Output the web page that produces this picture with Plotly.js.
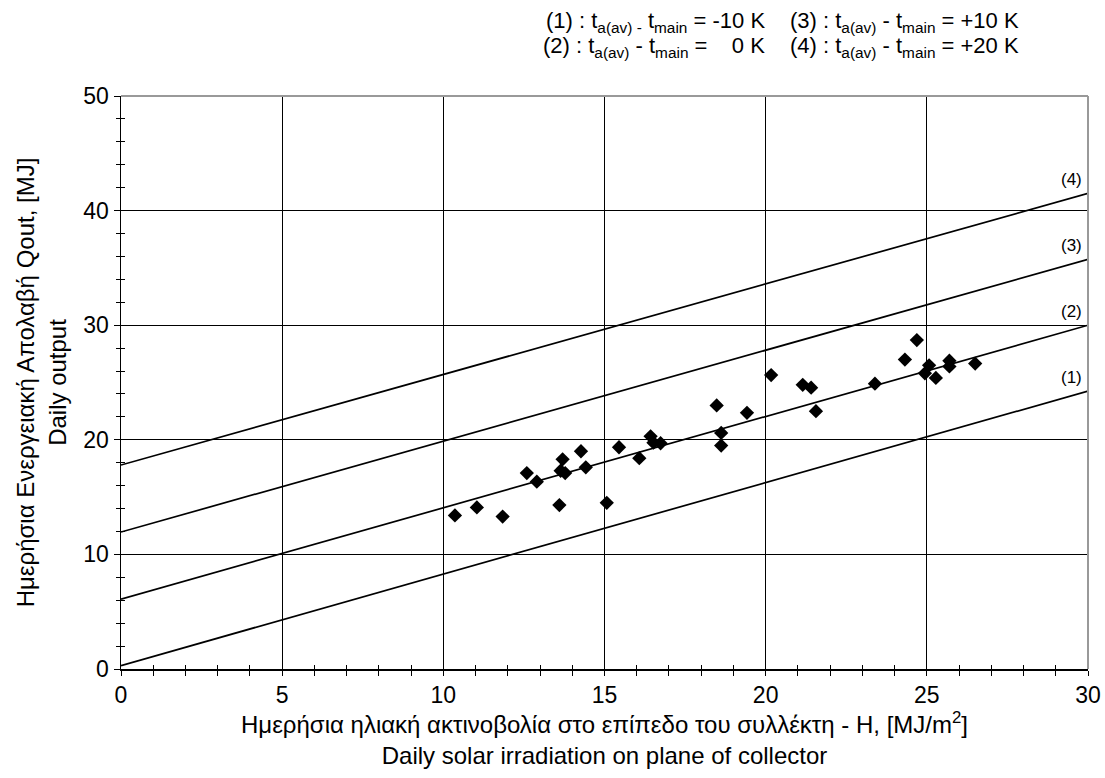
<!DOCTYPE html>
<html>
<head>
<meta charset="utf-8">
<script src="https://cdn.plot.ly/plotly-3.0.1.min.js"></script>
<style>html,body{margin:0;padding:0;background:#fff;}#chart{width:1105px;height:778px;}</style>
</head>
<body>
<div id="chart"></div>
<script>
// Measured daily values
const irradiationH = [10.36, 11.04, 11.84, 12.59, 12.9, 13.6, 13.7, 13.64, 13.78, 14.27, 14.42, 15.07, 15.45, 16.08, 16.43, 16.52, 16.74, 18.48, 18.62, 18.62, 19.42, 20.17, 21.15, 21.41, 21.56, 23.39, 24.32, 24.69, 24.94, 25.07, 25.28, 25.7, 25.7, 26.5];
const dailyOutput  = [13.4, 14.1, 13.3, 17.1, 16.35, 14.3, 18.3, 17.3, 17.1, 19.0, 17.6, 14.5, 19.35, 18.4, 20.3, 19.75, 19.7, 23.0, 20.6, 19.5, 22.35, 25.65, 24.8, 24.55, 22.5, 24.9, 27.0, 28.7, 25.8, 26.5, 25.4, 26.9, 26.4, 26.65];

// Performance lines (ta(av) - tmain)
const lineLabels = ["(1)", "(2)", "(3)", "(4)"];
const lineX = [0, 30];
const lineAtStart = [0.3, 6.1, 11.95, 17.8];
const lineAtEnd = [24.25, 30.0, 35.75, 41.5];

// Legend text rows (left column, right column)
const legendLeft = [
  "(1) : t<sub>a(av) -</sub> t<sub>main</sub> = -10 K",
  "(2) : t<sub>a(av)</sub> - t<sub>main</sub> =&nbsp;&nbsp;&nbsp;&nbsp;0 K"
];
const legendRight = [
  "(3) : t<sub>a(av)</sub> - t<sub>main</sub> = +10 K",
  "(4) : t<sub>a(av)</sub> - t<sub>main</sub> = +20 K"
];

const xTicks = [0, 5, 10, 15, 20, 25, 30];
const yTicks = [0, 10, 20, 30, 40, 50];

const FONT = "Liberation Sans, Arial, sans-serif";

const traces = [];
for (let i = 0; i < lineLabels.length; i++) {
  traces.push({
    type: "scatter", mode: "lines",
    x: lineX, y: [lineAtStart[i], lineAtEnd[i]],
    line: {color: "#000", width: 1.7},
    hoverinfo: "skip", showlegend: false
  });
}
traces.push({
  type: "scatter", mode: "markers",
  x: irradiationH, y: dailyOutput,
  marker: {symbol: "diamond", size: 11, color: "#000", line: {width: 0}},
  showlegend: false
});
// helper (empty) trace for the inner half of the cross ticks
traces.push({type: "scatter", mode: "markers", x: [null], y: [null], xaxis: "x2", yaxis: "y2", showlegend: false, hoverinfo: "skip"});

const annotations = [];
for (let i = 0; i < lineLabels.length; i++) {
  annotations.push({
    x: 30, y: lineAtEnd[i], xref: "x", yref: "y",
    text: lineLabels[i], showarrow: false,
    xanchor: "right", yanchor: "middle", yshift: 14, xshift: -4,
    font: {family: FONT, size: 17, color: "#000"}
  });
}
const rowY = [22, 47];
const pxX = px => (px - 121) / 967;
const pxY = py => 1 + (96 - py) / 573;
for (let i = 0; i < legendLeft.length; i++) {
  annotations.push({
    x: pxX(767), y: pxY(rowY[i]), xref: "paper", yref: "paper",
    text: legendLeft[i], showarrow: false, xanchor: "right", yanchor: "middle",
    font: {family: FONT, size: 22, color: "#000"}
  });
  annotations.push({
    x: pxX(788), y: pxY(rowY[i]), xref: "paper", yref: "paper",
    text: legendRight[i], showarrow: false, xanchor: "left", yanchor: "middle",
    font: {family: FONT, size: 22, color: "#000"}
  });
}

const tickFont = {family: FONT, size: 23, color: "#000"};
const titleFont = {family: FONT, size: 24, color: "#000"};

const layout = {
  width: 1105, height: 778,
  margin: {l: 121, r: 17, t: 96, b: 109},
  paper_bgcolor: "#fff", plot_bgcolor: "#fff",
  font: {family: FONT, color: "#000"},
  showlegend: false,
  xaxis: {
    range: [0, 30], tickvals: xTicks, ticktext: xTicks.map(String),
    showgrid: true, gridcolor: "#000", gridwidth: 1, zeroline: false,
    showline: true, linecolor: "#000", linewidth: 1.5,
    ticks: "outside", ticklen: 5, tickcolor: "#000", tickwidth: 1,
    minor: {dtick: 1, ticks: "outside", ticklen: 5, tickcolor: "#000", showgrid: false},
    tickfont: tickFont,
    title: {text: "Ημερήσια ηλιακή ακτινοβολία στο επίπεδο του συλλέκτη - H, [MJ/m<sup>2</sup>]<br>Daily solar irradiation on plane of collector",
            font: titleFont, standoff: 6}
  },
  yaxis: {
    range: [0, 50], tickvals: yTicks, ticktext: yTicks.map(String),
    showgrid: true, gridcolor: "#000", gridwidth: 1, zeroline: false,
    showline: true, linecolor: "#000", linewidth: 1.5,
    ticks: "outside", ticklen: 6, tickcolor: "#000", tickwidth: 1,
    minor: {dtick: 2, ticks: "outside", ticklen: 4, tickcolor: "#000", showgrid: false},
    tickfont: tickFont,
    title: {text: "Ημερήσια Ενεργειακή Απολαβή Qout, [MJ]<br>Daily output",
            font: titleFont, standoff: 10}
  },
  xaxis2: {
    overlaying: "x", anchor: "y2", side: "bottom", range: [0, 30],
    tickvals: xTicks, showticklabels: false, showgrid: false, zeroline: false, showline: false,
    ticks: "inside", ticklen: 4, tickcolor: "#000", tickwidth: 1,
    minor: {dtick: 1, ticks: "inside", ticklen: 4, tickcolor: "#000", showgrid: false}
  },
  yaxis2: {
    overlaying: "y", anchor: "x2", side: "left", range: [0, 50],
    tickvals: yTicks, showticklabels: false, showgrid: false, zeroline: false, showline: false,
    ticks: "",
    minor: {dtick: 2, ticks: "inside", ticklen: 4, tickcolor: "#000", showgrid: false}
  },
  shapes: [
    {type: "line", xref: "paper", yref: "paper", x0: 0, x1: 1, y0: 1, y1: 1, line: {color: "#999", width: 2}},
    {type: "line", xref: "paper", yref: "paper", x0: 1, x1: 1, y0: 0, y1: 1, line: {color: "#999", width: 2}}
  ],
  annotations: annotations
};

Plotly.newPlot("chart", traces, layout, {displayModeBar: false, staticPlot: true});
</script>
</body>
</html>
